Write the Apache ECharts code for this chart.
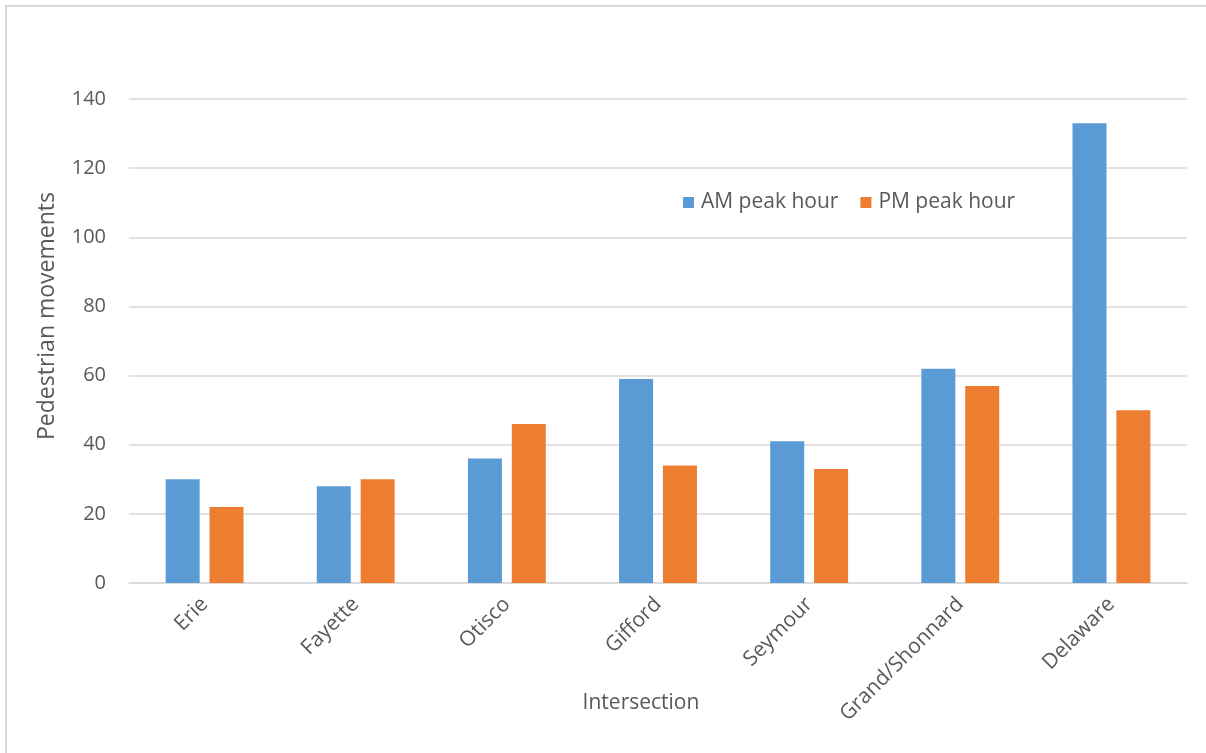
<!DOCTYPE html>
<html>
<head>
<meta charset="utf-8">
<script src="https://cdn.jsdelivr.net/npm/echarts@6/dist/echarts.min.js"></script>
<style>
  html, body { margin: 0; padding: 0; background: #ffffff; }
  #chart { width: 1206px; height: 753px; }
</style>
</head>
<body>
<div id="chart"></div>
<script>
// Pedestrian movements counted at each intersection, by peak hour
const intersections = ['Erie', 'Fayette', 'Otisco', 'Gifford', 'Seymour', 'Grand/Shonnard', 'Delaware'];
const amPeak = [30, 28, 36, 59, 41, 62, 133];
const pmPeak = [22, 30, 46, 34, 33, 57, 50];
const seriesNames = ['AM peak hour', 'PM peak hour'];
const yTicks = { min: 0, max: 140, step: 20 };

const FONT = '"Open Sans", "Noto Sans", sans-serif';
const TEXT = '#595959';
const GRID = '#d9d9d9';

const chart = echarts.init(document.getElementById('chart'), null, { renderer: 'canvas' });

chart.setOption({
  backgroundColor: '#ffffff',
  animation: false,
  textStyle: { fontFamily: FONT, color: TEXT },
  grid: { left: 129, right: 19, top: 99, bottom: 170, containLabel: false },
  legend: {
    data: seriesNames,
    left: 678,
    top: 187,
    itemWidth: 11,
    itemHeight: 11,
    itemGap: 22,
    icon: 'rect',
    textStyle: { fontFamily: FONT, fontSize: 21, color: TEXT, padding: [0, 0, 0, 2] }
  },
  xAxis: {
    type: 'category',
    data: intersections,
    axisLine: { lineStyle: { color: GRID, width: 1.5 } },
    axisTick: { show: false },
    axisLabel: { rotate: 45, margin: 18, fontSize: 21, color: TEXT, fontFamily: FONT, interval: 0 }
  },
  yAxis: {
    type: 'value',
    min: yTicks.min,
    max: yTicks.max,
    interval: yTicks.step,
    axisLine: { show: false },
    axisTick: { show: false },
    splitLine: { lineStyle: { color: GRID, width: 1.5 } },
    axisLabel: { margin: 23, fontSize: 20, color: TEXT, fontFamily: FONT }
  },
  series: [
    {
      name: seriesNames[0],
      type: 'bar',
      data: amPeak,
      itemStyle: { color: '#5b9bd5' },
      barWidth: 34,
      barGap: '29%'
    },
    {
      name: seriesNames[1],
      type: 'bar',
      data: pmPeak,
      itemStyle: { color: '#ed7d31' },
      barWidth: 34,
      barGap: '29%'
    }
  ],
  graphic: [
    {
      type: 'rect',
      shape: { x: 6, y: 6, width: 1240, height: 800 },
      style: { fill: 'none', stroke: GRID, lineWidth: 2 },
      silent: true
    },
    {
      type: 'text',
      x: 47,
      y: 316,
      rotation: Math.PI / 2,
      style: {
        text: 'Pedestrian movements',
        font: '23px ' + FONT,
        fill: TEXT,
        align: 'center',
        verticalAlign: 'middle'
      }
    },
    {
      type: 'text',
      x: 641,
      y: 703,
      style: {
        text: 'Intersection',
        font: '21px ' + FONT,
        fill: TEXT,
        align: 'center',
        verticalAlign: 'middle'
      }
    }
  ]
});
</script>
</body>
</html>
